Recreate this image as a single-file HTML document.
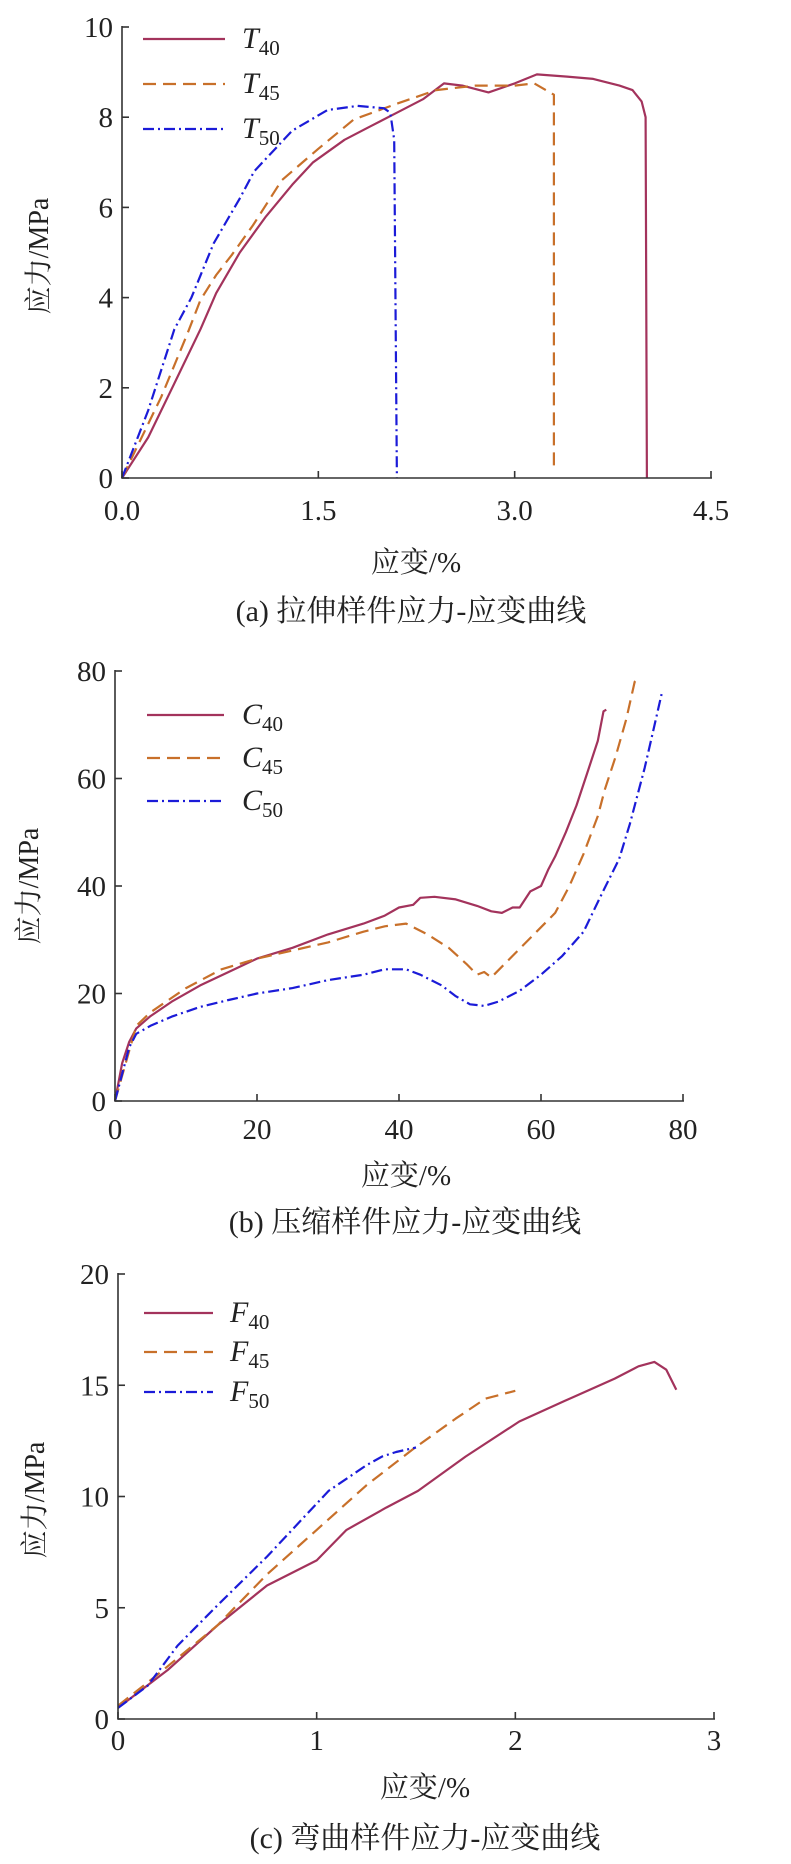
<!DOCTYPE html>
<html><head><meta charset="utf-8"><style>
html,body{margin:0;padding:0;background:#fff;}
svg{display:block;}
text{font-family:"Liberation Serif","Noto Serif CJK SC",serif;fill:#222;}
</style></head><body>
<svg id="fig" width="791" height="1864" viewBox="0 0 791 1864" xmlns="http://www.w3.org/2000/svg"></svg>
<script>
// ---- chart (a) tension data ----
const aXTicks=[0,1.5,3,4.5];
const aXTickLabels=["0.0","1.5","3.0","4.5"];
const aYTicks=[0,2,4,6,8,10];
const t40x=[0,0.2,0.4,0.6,0.72,0.9,1.1,1.3,1.46,1.7,1.9,2.1,2.3,2.46,2.6,2.8,3.0,3.17,3.4,3.6,3.8,3.9,3.97,4.0,4.01];
const t40y=[0,0.9,2.1,3.3,4.1,5.0,5.8,6.5,7.0,7.5,7.8,8.1,8.4,8.75,8.7,8.55,8.75,8.95,8.9,8.85,8.7,8.6,8.35,8.0,0];
const t45x=[0,0.3,0.5,0.6,0.72,0.84,1.0,1.22,1.5,1.77,2.1,2.4,2.7,3.0,3.15,3.3,3.3];
const t45y=[0,1.8,3.2,3.95,4.5,4.95,5.6,6.6,7.3,7.95,8.3,8.6,8.7,8.7,8.75,8.5,0.2];
const t50x=[0,0.2,0.4,0.53,0.7,0.9,1.01,1.3,1.57,1.8,2.0,2.05,2.08,2.1];
const t50y=[0,1.5,3.3,4.0,5.2,6.2,6.8,7.7,8.16,8.25,8.2,8.1,7.5,0];
// ---- chart (b) compression data ----
const bXTicks=[0,20,40,60,80];
const bYTicks=[0,20,40,60,80];
const c40x=[0,1,2,3,5,8,12,16,20,25,30,35,38,40,42,43,45,48,51,53,54.5,56,57,58.5,60,61,62,63.5,65,66.5,68,68.8,69.2];
const c40y=[0,7,11,13.5,15.8,18.5,21.5,24,26.5,28.5,31,33,34.5,36,36.5,37.8,38,37.5,36.3,35.3,35,36,36,39,40,43,45.5,50,55,61,67,72.5,72.8];
const c45x=[0,3,5,10,15,20,25,30,35,38,41,44,47,49.5,51,52,53,56,59,62,64,66,68,69,70.5,72,73.2,74];
const c45y=[0,14,16.5,21,24.5,26.5,28,29.5,31.5,32.5,33,31,28.5,25.5,23.5,24,23,27,31,35,40,46,53,58,64,71,78,79];
const c50x=[0,2,3,5,8,12,16,20,25,30,35,38,41,43,46,48,50,52,54,57,60,63,66,68,69,71,72.5,74.6,76,77];
const c50y=[0,10,12.5,14,15.7,17.5,18.8,20,21,22.5,23.5,24.5,24.5,23.5,21.5,19.5,18,17.7,18.5,20.5,23.5,27,31.5,37,39.7,45,51.5,62,70,75.8];
// ---- chart (c) flexure data ----
const cXTicks=[0,1,2,3];
const cYTicks=[0,5,10,15,20];
const f40x=[0,0.25,0.5,0.75,1.0,1.15,1.35,1.51,1.75,2.02,2.25,2.5,2.62,2.7,2.76,2.81];
const f40y=[0.5,2.2,4.2,6.0,7.13,8.5,9.5,10.25,11.8,13.37,14.3,15.3,15.85,16.05,15.7,14.8];
const f45x=[0,0.2,0.5,0.75,1.0,1.25,1.49,1.7,1.85,2.0];
const f45y=[0.6,2.0,4.2,6.5,8.5,10.5,12.16,13.5,14.4,14.75];
const f50x=[0,0.15,0.3,0.5,0.75,1.06,1.25,1.33,1.4,1.5];
const f50y=[0.5,1.5,3.3,5.1,7.3,10.25,11.4,11.8,12.0,12.2];

const NS="http://www.w3.org/2000/svg";
const svg=document.getElementById('fig');
function mk(tag,attrs,parent){const e=document.createElementNS(NS,tag);for(const k in attrs)e.setAttribute(k,attrs[k]);(parent||svg).appendChild(e);return e;}
const RED="#a3335c",ORG="#c8702a",BLU="#1b1bd8";
const styles=[{c:RED,d:""},{c:ORG,d:"13,7"},{c:BLU,d:"11,4,2,4"}];

function chart(cfg){
  const g=mk('g',{});
  
  
  const sx=v=>cfg.x0+(v-cfg.xmin)/(cfg.xmax-cfg.xmin)*(cfg.x1-cfg.x0);
  const sy=v=>cfg.y0-(v-cfg.ymin)/(cfg.ymax-cfg.ymin)*(cfg.y0-cfg.y1);
  cfg.series.forEach((s,i)=>{
    const d=s.x.map((v,j)=>(j?'L':'M')+sx(v).toFixed(1)+','+sy(s.y[j]).toFixed(1)).join(' ');
    const p=mk('path',{d:d,fill:'none',stroke:styles[i].c,'stroke-width':2.2,'stroke-dasharray':styles[i].d,'stroke-linejoin':'round'},g);
    
    
  });
  const ax=mk('path',{d:`M${cfg.x0},${cfg.y1-1} L${cfg.x0},${cfg.y0} L${cfg.x1+1},${cfg.y0}`,fill:'none',stroke:'#333','stroke-width':1.6},g);
  
  
  cfg.xt.forEach((v,i)=>{
    const X=sx(v);
    mk('line',{x1:X,y1:cfg.y0,x2:X,y2:cfg.y0-7,stroke:'#333','stroke-width':1.6},g);
    const t=mk('text',{x:X,y:cfg.xtY,'font-size':29,'text-anchor':'middle'},g);
    t.textContent=cfg.xl?cfg.xl[i]:String(v);
    
    
  });
  cfg.yt.forEach(v=>{
    const Y=sy(v);
    mk('line',{x1:cfg.x0,y1:Y,x2:cfg.x0+7,y2:Y,stroke:'#333','stroke-width':1.6},g);
    const t=mk('text',{x:cfg.x0-9,y:Y+10,'font-size':29,'text-anchor':'end'},g);
    t.textContent=String(v);
    
    
  });
  const yt=mk('text',{x:0,y:0,'font-size':28,'text-anchor':'middle',transform:`translate(${cfg.ytX},${cfg.ytY}) rotate(-90)`},g);
  yt.textContent='应力/MPa';
  
  
  const xt=mk('text',{x:cfg.xtitleX,y:cfg.xtitleY,'font-size':29,'text-anchor':'middle'},g);
  xt.textContent='应变/%';
  
  
  const cap=mk('text',{x:cfg.capX,y:cfg.capY,'font-size':30,'text-anchor':'middle'},g);
  cap.textContent=cfg.caption;
  
  
  cfg.series.forEach((s,i)=>{
    const Y=cfg.legY[i];
    const le=mk('g',{},g);
    
    
    mk('line',{x1:cfg.legX0,y1:Y,x2:cfg.legX1,y2:Y,stroke:styles[i].c,'stroke-width':2.2,'stroke-dasharray':styles[i].d},le);
    const t=mk('text',{x:cfg.legTX,y:Y+9,'font-size':30},le);
    const a=mk('tspan',{'font-style':'italic'},t);a.textContent=cfg.letter;
    const b=mk('tspan',{'font-size':21,dy:7},t);b.textContent=s.sub;
  });
}

chart({name:'tension-chart',xmin:0,xmax:4.5,ymin:0,ymax:10,x0:122,x1:711,y0:478,y1:27,
  xt:aXTicks,xl:aXTickLabels,yt:aYTicks,xtY:520,ytX:48,ytY:256,xtitleX:416,xtitleY:572,
  capX:411,capY:621,caption:'(a) 拉伸样件应力-应变曲线',
  legX0:143,legX1:225,legTX:242,legY:[39,84,129],letter:'T',
  series:[{id:'t40',sub:'40',x:t40x,y:t40y},{id:'t45',sub:'45',x:t45x,y:t45y},{id:'t50',sub:'50',x:t50x,y:t50y}]});
chart({name:'compression-chart',xmin:0,xmax:80,ymin:0,ymax:80,x0:115,x1:683,y0:1101,y1:671,
  xt:bXTicks,yt:bYTicks,xtY:1139,ytX:38,ytY:886,xtitleX:406,xtitleY:1185,
  capX:405,capY:1232,caption:'(b) 压缩样件应力-应变曲线',
  legX0:147,legX1:224,legTX:242,legY:[715,758,801],letter:'C',
  series:[{id:'c40',sub:'40',x:c40x,y:c40y},{id:'c45',sub:'45',x:c45x,y:c45y},{id:'c50',sub:'50',x:c50x,y:c50y}]});
chart({name:'flexure-chart',xmin:0,xmax:3,ymin:0,ymax:20,x0:118,x1:714,y0:1719,y1:1274,
  xt:cXTicks,yt:cYTicks,xtY:1750,ytX:44,ytY:1500,xtitleX:425,xtitleY:1797,
  capX:425,capY:1848,caption:'(c) 弯曲样件应力-应变曲线',
  legX0:144,legX1:213,legTX:230,legY:[1313,1352,1392],letter:'F',
  series:[{id:'f40',sub:'40',x:f40x,y:f40y},{id:'f45',sub:'45',x:f45x,y:f45y},{id:'f50',sub:'50',x:f50x,y:f50y}]});
</script>
</body></html>
